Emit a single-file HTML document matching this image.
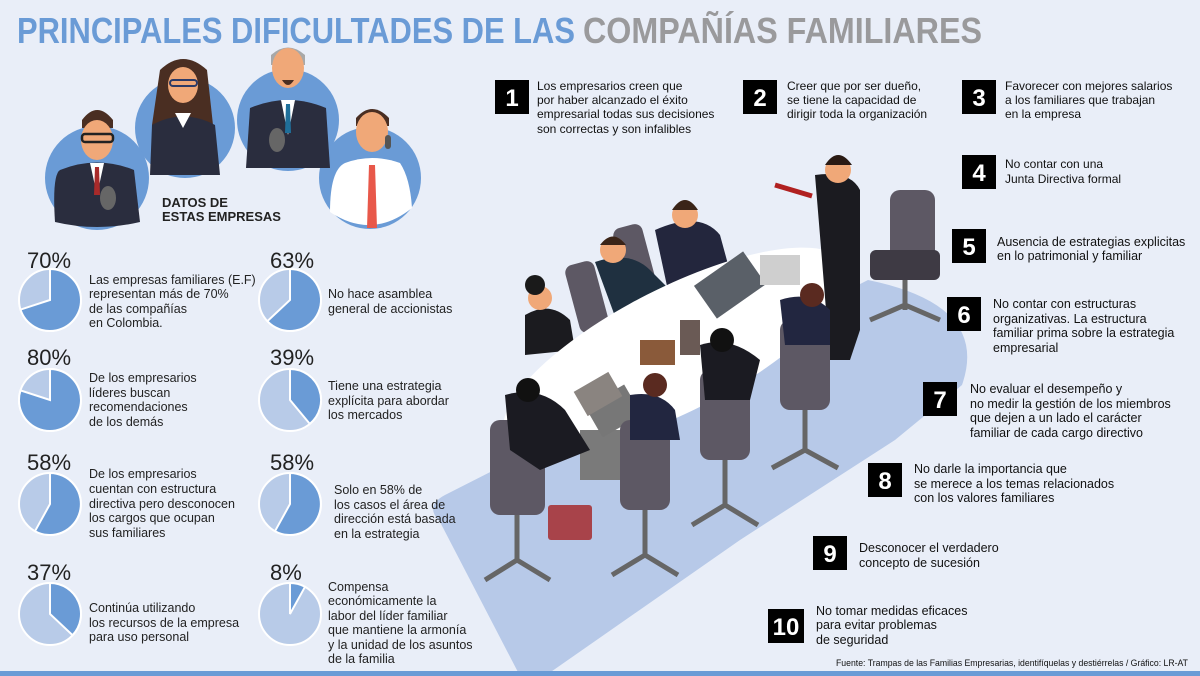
<!DOCTYPE html>
<html><head><meta charset="utf-8"><style>
html,body{margin:0;padding:0;background:#e9eef8;}
svg{display:block}
text{font-family:"Liberation Sans",sans-serif;}
</style></head><body>
<svg width="1200" height="676" viewBox="0 0 1200 676" xmlns="http://www.w3.org/2000/svg">
<rect width="1200" height="676" fill="#e9eef8"/>

<!-- illustration -->
<path d="M440,522 Q424,506 445,495 L868,280 Q990,305 962,385 L895,440 L740,540 L545,676 L520,676 Z" fill="#b7c9e8"/>
<g fill="#5d5864">
<rect x="620" y="225" width="30" height="70" rx="8" transform="rotate(-15 635 260)"/>
<rect x="572" y="262" width="30" height="70" rx="8" transform="rotate(-15 587 297)"/>
<rect x="890" y="190" width="45" height="90" rx="10"/>
<rect x="870" y="250" width="70" height="30" rx="6" fill="#3e3a44"/>
<path d="M905,280 L905,310 M870,320 L905,305 L940,320" stroke="#666" stroke-width="5" fill="none"/>
</g>
<g fill="#23263d">
<path d="M655,230 Q700,210 720,235 L735,290 L670,300 Z"/>
<path d="M595,262 Q630,250 650,270 L680,300 L620,330 Z" fill="#1f3040"/>
<path d="M525,315 Q550,300 570,320 L575,350 L525,355 Z" fill="#1b1b1f"/>
</g>
<g fill="#f0a878"><circle cx="685" cy="215" r="13"/><circle cx="613" cy="250" r="13"/><circle cx="540" cy="298" r="12"/></g>
<g fill="#3a2418"><path d="M672,210 Q685,190 698,210 Z"/><path d="M600,245 Q613,228 626,245 Z"/><circle cx="535" cy="285" r="10" fill="#1a1a1a"/></g>
<ellipse cx="675" cy="350" rx="190" ry="62" transform="rotate(-27 675 350)" fill="#ffffff"/>
<rect x="580" y="430" width="50" height="50" fill="#7a7a7a"/>
<rect x="700" y="265" width="60" height="40" fill="#5a6068" transform="rotate(-35 730 285)"/>
<rect x="760" y="255" width="40" height="30" fill="#cfcfcf"/>
<rect x="640" y="340" width="35" height="25" fill="#8a5a3a"/>
<rect x="680" y="320" width="20" height="35" fill="#6a5a55"/>
<rect x="590" y="395" width="45" height="35" fill="#777" transform="rotate(-30 610 410)"/>
<path d="M815,175 Q850,170 860,190 L860,330 L850,360 L830,360 L822,260 Z" fill="#1b1b20"/>
<circle cx="838" cy="170" r="13" fill="#f0a878"/>
<path d="M825,165 Q838,145 852,165 Z" fill="#2a1a14"/>
<path d="M775,185 L812,196" stroke="#b02020" stroke-width="5"/>
<g fill="#5d5864">
<rect x="490" y="420" width="55" height="95" rx="10"/>
<rect x="620" y="420" width="50" height="90" rx="10"/>
<rect x="700" y="370" width="50" height="90" rx="10"/>
<rect x="780" y="320" width="50" height="90" rx="10"/>
</g>
<g fill="#1b1b22">
<path d="M505,395 Q540,385 565,410 L590,450 L540,470 L510,450 Z"/>
<path d="M630,395 Q660,390 675,410 L680,440 L630,440 Z" fill="#222640"/>
<path d="M700,345 Q730,335 760,360 L750,400 L705,400 Z"/>
<path d="M780,300 Q810,290 830,310 L830,345 L785,345 Z" fill="#222640"/>
</g>
<g fill="#111"><circle cx="528" cy="390" r="12"/><circle cx="722" cy="340" r="12"/></g>
<g fill="#5a2a20"><circle cx="655" cy="385" r="12"/><circle cx="812" cy="295" r="12"/></g>
<rect x="578" y="380" width="40" height="28" fill="#8a8480" transform="rotate(-30 598 394)"/>
<g stroke="#666" stroke-width="5" fill="none">
<path d="M517,515 L517,560 M485,580 L517,560 L550,580"/>
<path d="M645,510 L645,555 M612,575 L645,555 L678,575"/>
<path d="M725,460 L725,505 M692,525 L725,505 L758,525"/>
<path d="M805,410 L805,450 M772,468 L805,450 L838,468"/>
</g>
<rect x="548" y="505" width="44" height="35" rx="3" fill="#a8434a"/>

<!-- title -->
<text x="17" y="43" font-size="36" font-weight="bold" fill="#6a9bd6" textLength="558" lengthAdjust="spacingAndGlyphs">PRINCIPALES DIFICULTADES DE  LAS</text>
<text x="583" y="43" font-size="36" font-weight="bold" fill="#9a9a9c" textLength="399" lengthAdjust="spacingAndGlyphs">COMPAÑÍAS FAMILIARES</text>

<!-- people circles -->
<g>
<circle cx="185" cy="128" r="50" fill="#6a9bd6"/>
<circle cx="288" cy="120" r="51" fill="#6a9bd6"/>
<circle cx="97" cy="178" r="52" fill="#6a9bd6"/>
<circle cx="370" cy="178" r="51" fill="#6a9bd6"/>
<!-- woman -->
<path d="M160,70 Q183,48 207,70 L213,125 L152,125 Z" fill="#4a2e22"/>
<ellipse cx="183" cy="85" rx="15" ry="18" fill="#f0a878"/>
<path d="M150,175 L152,125 Q183,108 215,125 L220,175 Z" fill="#2a2d3e"/>
<path d="M175,113 L183,128 L191,113 Z" fill="#fff"/>
<rect x="170" y="80" width="27" height="6" rx="3" fill="none" stroke="#2c3a66" stroke-width="2"/>
<!-- grey man -->
<path d="M271,55 Q288,40 305,55 L305,65 L271,65 Z" fill="#a8a8a8"/>
<ellipse cx="288" cy="68" rx="16" ry="20" fill="#f0a878"/>
<path d="M282,80 Q288,90 294,80 Z" fill="#4a2e22"/>
<path d="M246,168 L250,108 Q288,92 326,108 L330,168 Z" fill="#2a2d3e"/>
<path d="M281,100 L288,135 L295,100 Z" fill="#fff"/>
<path d="M286,104 L290,104 L291,133 L285,133 Z" fill="#1f6f9a"/>
<ellipse cx="277" cy="140" rx="8" ry="12" fill="#666"/>
<!-- man 1 -->
<path d="M82,120 Q97,100 113,120 L113,128 L82,128 Z" fill="#4a2e22"/>
<ellipse cx="97" cy="140" rx="16" ry="20" fill="#f0a878"/>
<rect x="82" y="134" width="31" height="8" rx="3" fill="none" stroke="#222" stroke-width="2.5"/>
<path d="M55,222 Q52,175 60,170 Q97,155 134,170 L140,222 Q97,232 55,222 Z" fill="#2a2d3e"/>
<path d="M90,163 L97,195 L104,163 Z" fill="#fff"/>
<path d="M95,167 L99,167 L100,195 L94,195 Z" fill="#a82a2a"/>
<ellipse cx="108" cy="198" rx="8" ry="12" fill="#666"/>
<!-- man 4 -->
<path d="M356,118 Q372,100 389,118 L389,126 L356,126 Z" fill="#4a2e22"/>
<ellipse cx="372" cy="132" rx="16" ry="20" fill="#f0a878"/>
<path d="M330,212 Q330,170 345,163 Q372,153 400,163 Q410,178 412,208 Q372,240 330,212 Z" fill="#fff"/>
<path d="M369,165 L375,165 L377,228 L367,228 Z" fill="#e8584a"/>
<rect x="385" y="135" width="6" height="14" rx="3" fill="#555"/>
</g>
<text font-size="13" font-weight="bold" fill="#222"><tspan x="162" y="207">DATOS DE</tspan><tspan x="162" y="221">ESTAS EMPRESAS</tspan></text>

<!-- pies -->
<g stroke="#fff" stroke-width="2">
<circle cx="50" cy="300" r="31" fill="#b8cbe8"/><path d="M50,300 L50,269 A31,31 0 1 1 20.5,309.6 Z" fill="#6a9bd6"/>
<circle cx="50" cy="400" r="31" fill="#b8cbe8"/><path d="M50,400 L50,369 A31,31 0 1 1 20.5,390.4 Z" fill="#6a9bd6"/>
<circle cx="50" cy="504" r="31" fill="#b8cbe8"/><path d="M50,504 L50,473 A31,31 0 1 1 35,531.2 Z" fill="#6a9bd6"/>
<circle cx="50" cy="614" r="31" fill="#b8cbe8"/><path d="M50,614 L50,583 A31,31 0 0 1 72.6,635.2 Z" fill="#6a9bd6"/>
<circle cx="290" cy="300" r="31" fill="#b8cbe8"/><path d="M290,300 L290,269 A31,31 0 1 1 267.4,321.2 Z" fill="#6a9bd6"/>
<circle cx="290" cy="400" r="31" fill="#b8cbe8"/><path d="M290,400 L290,369 A31,31 0 0 1 309.8,423.9 Z" fill="#6a9bd6"/>
<circle cx="290" cy="504" r="31" fill="#b8cbe8"/><path d="M290,504 L290,473 A31,31 0 1 1 275,531.2 Z" fill="#6a9bd6"/>
<circle cx="290" cy="614" r="31" fill="#b8cbe8"/><path d="M290,614 L290,583 A31,31 0 0 1 305,586.8 Z" fill="#6a9bd6"/>
</g>
<g font-size="22" fill="#222">
<text x="27" y="268">70%</text><text x="27" y="365">80%</text><text x="27" y="470">58%</text><text x="27" y="580">37%</text>
<text x="270" y="268">63%</text><text x="270" y="365">39%</text><text x="270" y="470">58%</text><text x="270" y="580">8%</text>
</g>
<g font-size="12.5" fill="#222">
<text><tspan x="89" y="284">Las empresas familiares (E.F)</tspan><tspan x="89" y="298">representan más de 70%</tspan><tspan x="89" y="313">de las compañías</tspan><tspan x="89" y="327">en Colombia.</tspan></text>
<text><tspan x="89" y="382">De los empresarios</tspan><tspan x="89" y="397">líderes buscan</tspan><tspan x="89" y="411">recomendaciones</tspan><tspan x="89" y="426">de los demás</tspan></text>
<text><tspan x="89" y="478">De los empresarios</tspan><tspan x="89" y="493">cuentan con estructura</tspan><tspan x="89" y="508">directiva pero desconocen</tspan><tspan x="89" y="522">los cargos que ocupan</tspan><tspan x="89" y="537">sus familiares</tspan></text>
<text><tspan x="89" y="612">Continúa utilizando</tspan><tspan x="89" y="627">los recursos de la empresa</tspan><tspan x="89" y="641">para uso personal</tspan></text>
<text><tspan x="328" y="298">No hace asamblea</tspan><tspan x="328" y="313">general de accionistas</tspan></text>
<text><tspan x="328" y="390">Tiene una estrategia</tspan><tspan x="328" y="405">explícita para abordar</tspan><tspan x="328" y="419">los mercados</tspan></text>
<text><tspan x="334" y="494">Solo en 58% de</tspan><tspan x="334" y="509">los casos el área de</tspan><tspan x="334" y="523">dirección está basada</tspan><tspan x="334" y="538">en la estrategia</tspan></text>
<text><tspan x="328" y="591">Compensa</tspan><tspan x="328" y="605">económicamente la</tspan><tspan x="328" y="620">labor del líder familiar</tspan><tspan x="328" y="634">que mantiene la armonía</tspan><tspan x="328" y="649">y la unidad de los asuntos</tspan><tspan x="328" y="663">de la familia</tspan></text>
</g>

<!-- numbered items -->
<g fill="#000">
<rect x="495" y="80" width="34" height="34"/><rect x="743" y="80" width="34" height="34"/><rect x="962" y="80" width="34" height="34"/>
<rect x="962" y="155" width="34" height="34"/><rect x="952" y="229" width="34" height="34"/><rect x="947" y="297" width="34" height="34"/>
<rect x="923" y="382" width="34" height="34"/><rect x="868" y="463" width="34" height="34"/><rect x="813" y="536" width="34" height="34"/>
<rect x="768" y="609" width="36" height="34"/>
</g>
<g fill="#fff" font-size="24" font-weight="bold" text-anchor="middle">
<text x="512" y="106">1</text><text x="760" y="106">2</text><text x="979" y="106">3</text><text x="979" y="181">4</text>
<text x="969" y="255">5</text><text x="964" y="323">6</text><text x="940" y="408">7</text><text x="885" y="489">8</text>
<text x="830" y="562">9</text><text x="786" y="635">10</text>
</g>
<g font-size="12" fill="#111">
<text><tspan x="537" y="90">Los empresarios creen que</tspan><tspan x="537" y="104">por haber alcanzado el éxito</tspan><tspan x="537" y="118">empresarial todas sus decisiones</tspan><tspan x="537" y="133">son correctas y son infalibles</tspan></text>
<text><tspan x="787" y="90">Creer que por ser dueño,</tspan><tspan x="787" y="104">se tiene la capacidad de</tspan><tspan x="787" y="118">dirigir toda la organización</tspan></text>
<text><tspan x="1005" y="90">Favorecer con mejores salarios</tspan><tspan x="1005" y="104">a los familiares que trabajan</tspan><tspan x="1005" y="118">en la empresa</tspan></text>
<text><tspan x="1005" y="168">No contar con una</tspan><tspan x="1005" y="183">Junta Directiva formal</tspan></text>
</g>
<g font-size="12.5" fill="#111">
<text><tspan x="997" y="246">Ausencia de estrategias explicitas</tspan><tspan x="997" y="260">en lo patrimonial y familiar</tspan></text>
<text><tspan x="993" y="308">No contar con estructuras</tspan><tspan x="993" y="323">organizativas. La estructura</tspan><tspan x="993" y="337">familiar prima sobre la estrategia</tspan><tspan x="993" y="352">empresarial</tspan></text>
<text><tspan x="970" y="393">No evaluar el desempeño y</tspan><tspan x="970" y="408">no medir la gestión de los miembros</tspan><tspan x="970" y="422">que dejen a un lado el carácter</tspan><tspan x="970" y="437">familiar de cada cargo directivo</tspan></text>
<text><tspan x="914" y="473">No darle la importancia que</tspan><tspan x="914" y="488">se merece a los temas relacionados</tspan><tspan x="914" y="502">con los valores familiares</tspan></text>
<text><tspan x="859" y="552">Desconocer el verdadero</tspan><tspan x="859" y="567">concepto de sucesión</tspan></text>
<text><tspan x="816" y="615">No tomar medidas eficaces</tspan><tspan x="816" y="629">para evitar problemas</tspan><tspan x="816" y="644">de seguridad</tspan></text>
</g>
<text x="836" y="666" font-size="9.5" fill="#111" textLength="352" lengthAdjust="spacingAndGlyphs">Fuente: Trampas de las Familias Empresarias, identifíquelas y destiérrelas / Gráfico: LR-AT</text>
<rect x="0" y="671" width="1200" height="5" fill="#6a9bd6"/>
</svg>
</body></html>
